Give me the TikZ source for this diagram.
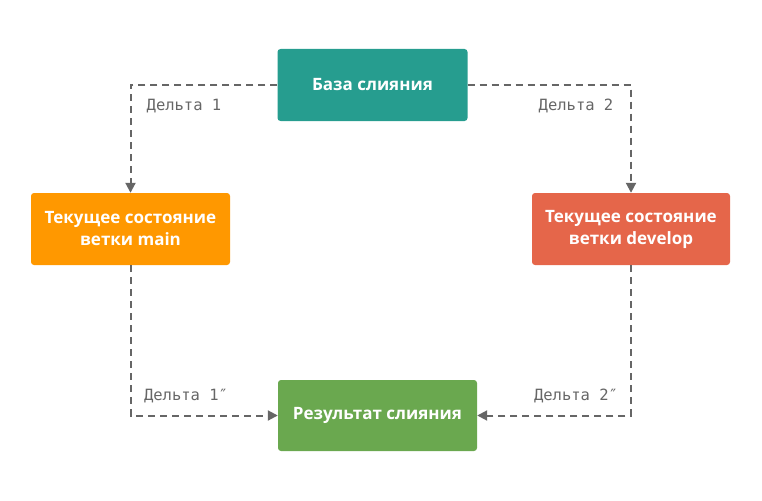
\documentclass[tikz,border=0pt]{standalone}
\usepackage{fontspec}
\setmainfont{Open Sans}
\setmonofont{DejaVu Sans Mono}
\usetikzlibrary{arrows.meta}
\definecolor{baseteal}{RGB}{38,157,143}
\definecolor{mainorange}{RGB}{255,152,0}
\definecolor{devred}{RGB}{229,102,74}
\definecolor{resgreen}{RGB}{106,168,79}
\definecolor{linegray}{RGB}{102,102,102}

\begin{document}
\begin{tikzpicture}[x=1pt,y=-1pt]
\tikzset{state/.style={rounded corners=3pt, minimum height=72pt, text=white, align=center, font=\bfseries\fontsize{17}{22}\selectfont, inner sep=0pt}}
\tikzset{delta/.style={draw=linegray, line width=2pt, dash pattern=on 7pt off 5pt, -{Triangle[length=10pt,width=10pt]}}}
\tikzset{deltalabel/.style={text=linegray, font=\ttfamily\fontsize{15.5}{18}\selectfont, inner sep=0pt}}
\useasboundingbox (0,0) rectangle (762,500);
\node[state, fill=baseteal, minimum width=190pt] (base) at (372.5,85) {База слияния};
\node[state, fill=mainorange, minimum width=199pt] (main) at (130.5,229) {Текущее состояние\\ветки main};
\node[state, fill=devred, minimum width=198pt] (develop) at (631,229) {Текущее состояние\\ветки develop};
\node[state, fill=resgreen, minimum width=199pt, minimum height=71pt] (result) at (377.5,415.5) {Результат слияния};
\draw[delta] (base.west) -| (main.north);
\draw[delta] (base.east) -| (develop.north);
\draw[delta] (main.south) |- (result.west);
\draw[delta] (develop.south) |- (result.east);
\node[deltalabel] (d1) at (184,106) {Дельта 1};
\node[deltalabel] (d2) at (576,106) {Дельта 2};
\node[deltalabel] (d1r) at (186,396) {Дельта 1″};
\node[deltalabel] (d2r) at (576,396) {Дельта 2″};
\end{tikzpicture}
\end{document}
